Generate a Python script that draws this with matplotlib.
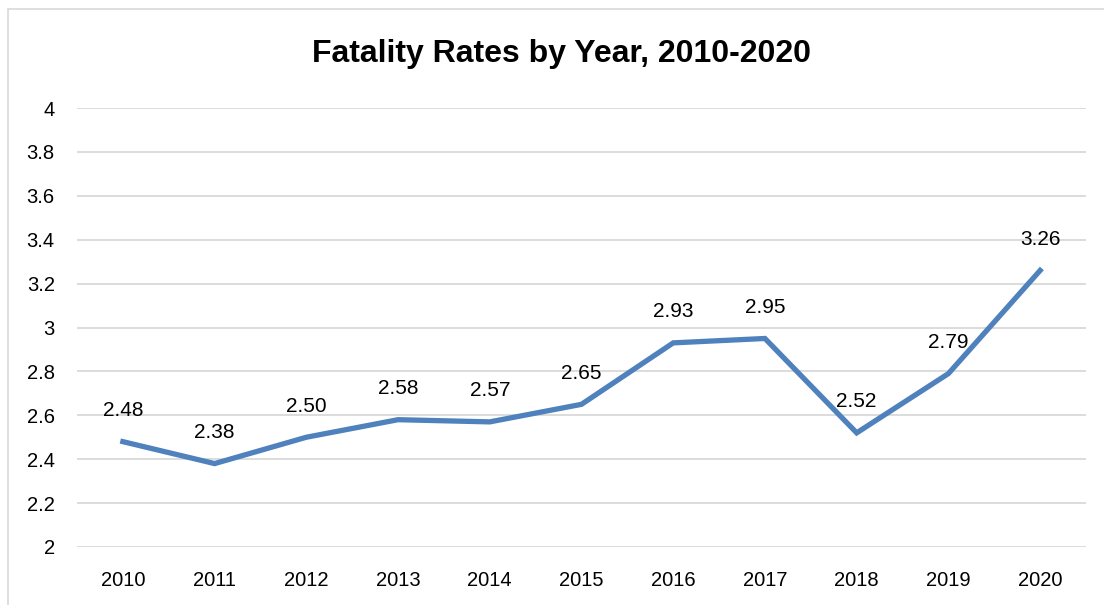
import matplotlib
matplotlib.use("Agg")
import matplotlib.pyplot as plt
from matplotlib.patches import Rectangle

years = ["2010", "2011", "2012", "2013", "2014", "2015", "2016", "2017", "2018", "2019", "2020"]
rates = [2.48, 2.38, 2.50, 2.58, 2.57, 2.65, 2.93, 2.95, 2.52, 2.79, 3.26]
yticks = [2, 2.2, 2.4, 2.6, 2.8, 3, 3.2, 3.4, 3.6, 3.8, 4]
ytick_labels = ["2", "2.2", "2.4", "2.6", "2.8", "3", "3.2", "3.4", "3.6", "3.8", "4"]
title = "Fatality Rates by Year, 2010-2020"

plt.rcParams['font.family'] = ['Liberation Sans', 'DejaVu Sans']

W, H = 1104, 605
fig = plt.figure(figsize=(W / 100, H / 100), dpi=100)
fig.patch.set_facecolor("white")

# outer chart border (left and top visible)
fig.add_artist(Rectangle((8 / W, -0.1), 1.2, 1 - 9 / H + 0.1, transform=fig.transFigure,
                         fill=False, edgecolor="#d9d9d9", linewidth=1.2))

ax = fig.add_axes([77 / W, 1 - 547 / H, (1086 - 77) / W, (547 - 108) / H])
x = list(range(len(years)))
ax.plot(x, rates, color="#4f81bd", linewidth=3.8, solid_joinstyle="miter", zorder=3)
for xi, v in zip(x, rates):
    ax.annotate(f"{v:.2f}", (xi, v), xytext=(0, 22.5), textcoords="offset points",
                ha="center", va="center", fontsize=15, color="#000000")

ax.set_xlim(-0.5, len(years) - 0.5)
ax.set_ylim(2, 4)
ax.set_yticks(yticks)
ax.set_yticklabels(ytick_labels)
ax.set_xticks(x)
ax.set_xticklabels(years)
ax.tick_params(axis="both", length=0, labelsize=14.5, colors="#000000")
ax.tick_params(axis="y", pad=16)
ax.tick_params(axis="x", pad=17)
ax.grid(axis="y", color="#d9d9d9", linewidth=1.3)
ax.set_axisbelow(True)
for s in ax.spines.values():
    s.set_visible(False)

fig.text(562 / W, 1 - 54 / H, title, ha="center", va="center", fontsize=23, fontweight="bold")

fig.savefig("out.png", dpi=100)
